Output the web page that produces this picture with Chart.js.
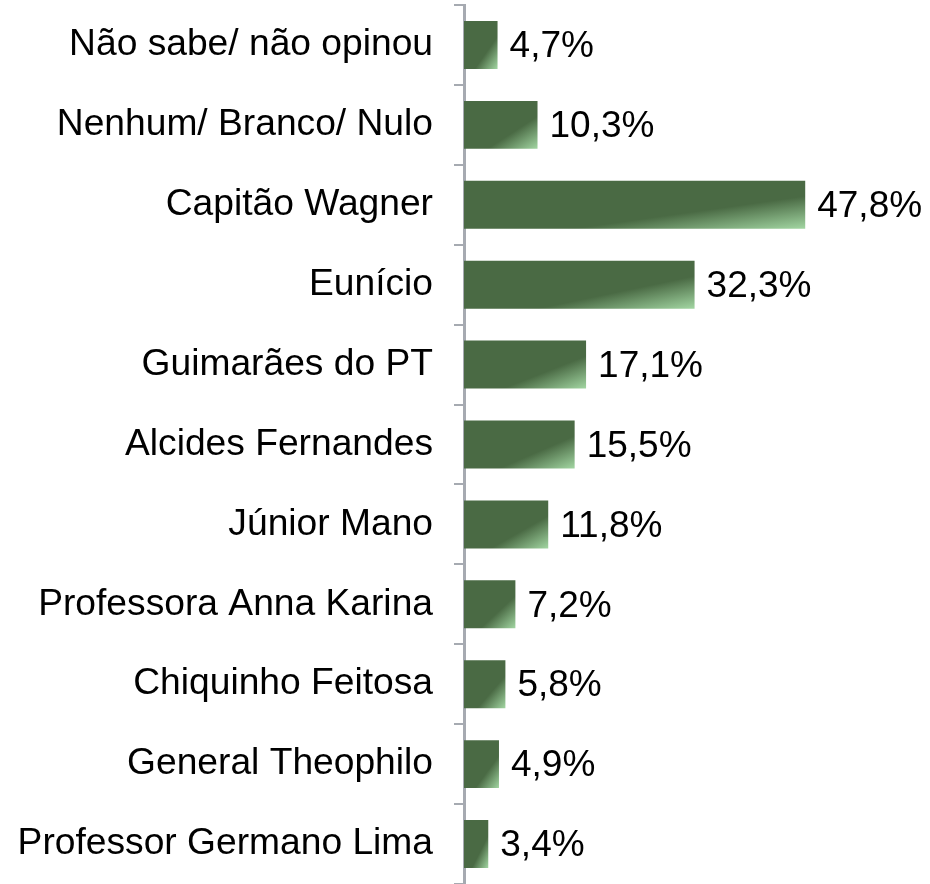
<!DOCTYPE html>
<html>
<head>
<meta charset="utf-8">
<script src="https://cdn.jsdelivr.net/npm/chart.js@4"></script>
<style>
  html, body { margin: 0; padding: 0; background: #fff; }
  #wrap { width: 930px; height: 884px; }
</style>
</head>
<body>
<div id="wrap"><canvas id="chart"></canvas></div>
<script>
const categories = [
  'Não sabe/ não opinou',
  'Nenhum/ Branco/ Nulo',
  'Capitão Wagner',
  'Eunício',
  'Guimarães do PT',
  'Alcides Fernandes',
  'Júnior Mano',
  'Professora Anna Karina',
  'Chiquinho Feitosa',
  'General Theophilo',
  'Professor Germano Lima'
];
const values = [4.7, 10.3, 47.8, 32.3, 17.1, 15.5, 11.8, 7.2, 5.8, 4.9, 3.4];

const FONT = 'Liberation Sans, Arial, sans-serif';
const BAR_PCT = 0.6;
const DARK = '#4a6a44';

// diagonal shading toward the bottom-right corner of each bar
function barFill(ctx) {
  const chart = ctx.chart;
  const xs = chart.scales.x, ys = chart.scales.y;
  if (!xs || !ys || ctx.dataIndex === undefined || !ys.height) return DARK;
  const i = ctx.dataIndex;
  const x0 = xs.getPixelForValue(0);
  const x1 = xs.getPixelForValue(values[i]);
  const h = ys.height / categories.length * BAR_PCT;
  const y0 = ys.getPixelForValue(i) - h / 2;
  const w = x1 - x0;
  const k = 2 * w * h / (w * w + h * h);
  const nums = [x0, x1, y0, h, w, k];
  if (!nums.every(Number.isFinite) || w <= 0 || h <= 0) return DARK;
  const g = chart.ctx.createLinearGradient(x0, y0, x0 + h * k, y0 + w * k);
  g.addColorStop(0, DARK);
  g.addColorStop(0.66, DARK);
  g.addColorStop(1, '#a2d6a2');
  return g;
}

const valueLabels = {
  id: 'valueLabels',
  afterDatasetsDraw(chart) {
    const c = chart.ctx;
    c.save();
    c.font = '37px ' + FONT;
    c.fillStyle = '#000';
    c.textAlign = 'left';
    c.textBaseline = 'middle';
    chart.getDatasetMeta(0).data.forEach((bar, i) => {
      c.fillText(values[i].toFixed(1).replace('.', ',') + '%', bar.x + 12, bar.y + 2);
    });
    c.restore();
  }
};

new Chart(document.getElementById('chart'), {
  type: 'bar',
  data: {
    labels: categories,
    datasets: [{
      data: values,
      backgroundColor: barFill,
      borderWidth: 0,
      barPercentage: BAR_PCT,
      categoryPercentage: 1.0
    }]
  },
  options: {
    indexAxis: 'y',
    responsive: true,
    maintainAspectRatio: false,
    animation: false,
    layout: { padding: { top: 5, right: 2, bottom: 0, left: 0 } },
    plugins: {
      legend: { display: false },
      tooltip: { enabled: false }
    },
    scales: {
      x: {
        display: false,
        min: 0,
        max: 65
      },
      y: {
        afterFit: (scale) => {
          scale.width = 464;
          scale.paddingTop = 0;
          scale.paddingBottom = 0;
        },
        grid: {
          offset: true,
          drawOnChartArea: false,
          drawTicks: true,
          tickLength: 10,
          color: '#a6aab1',
          lineWidth: 2
        },
        border: { display: true, color: '#a6aab1', width: 3 },
        ticks: {
          color: '#000',
          padding: 21,
          font: { family: FONT, size: 37.2 }
        }
      }
    }
  },
  plugins: [valueLabels]
});
</script>
</body>
</html>
